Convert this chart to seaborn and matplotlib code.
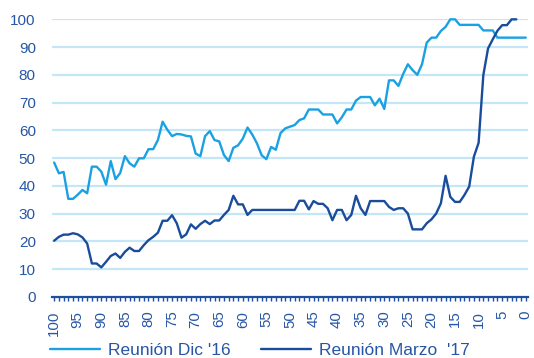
import numpy as np
import pandas as pd
import matplotlib
matplotlib.use("Agg")
import matplotlib.pyplot as plt
import seaborn as sns

x_vals = list(range(100, -1, -1))

dic16 = [48.4, 44.5, 45.0, 35.3, 35.3, 36.8, 38.5, 37.3, 46.9, 46.9,
         45.1, 40.4, 48.9, 42.4, 44.6, 50.7, 48.1, 46.9, 49.9, 49.9,
         53.2, 53.2, 56.5, 63.1, 60.2, 57.9, 58.7, 58.5, 58.0, 57.8,
         51.6, 50.7, 57.9, 59.7, 56.5, 56.0, 51.1, 48.9, 53.7, 54.6,
         57.0, 61.0, 58.5, 55.3, 51.0, 49.6, 54.0, 53.0, 59.0, 60.7,
         61.3, 61.9, 63.7, 64.3, 67.5, 67.5, 67.5, 65.7, 65.7, 65.7,
         62.5, 64.7, 67.5, 67.5, 70.7, 72.0, 72.0, 72.0, 69.0, 71.4,
         67.7, 78.0, 78.0, 76.0, 80.3, 83.8, 81.7, 80.0, 83.8, 91.6,
         93.4, 93.4, 95.8, 97.3, 100.0, 100.0, 98.0, 98.0, 98.0, 98.0,
         98.0, 96.0, 96.0, 96.0, 93.4, 93.4, 93.4, 93.4, 93.4, 93.4,
         93.4]

mar17 = [20.2, 21.6, 22.4, 22.4, 22.9, 22.5, 21.4, 19.2, 12.0, 12.0,
         10.6, 12.6, 14.7, 15.6, 14.0, 16.2, 17.7, 16.5, 16.5, 18.6,
         20.4, 21.6, 23.1, 27.4, 27.4, 29.4, 26.5, 21.3, 22.5, 26.1,
         24.5, 26.2, 27.4, 26.2, 27.5, 27.5, 29.5, 31.3, 36.4, 33.3,
         33.3, 29.5, 31.3, 31.3, 31.3, 31.3, 31.3, 31.3, 31.3, 31.3,
         31.3, 31.3, 34.6, 34.6, 31.5, 34.5, 33.5, 33.5, 31.9, 27.6,
         31.3, 31.3, 27.6, 29.5, 36.4, 31.9, 29.5, 34.5, 34.5, 34.5,
         34.5, 32.4, 31.3, 31.9, 31.9, 30.0, 24.3, 24.3, 24.3, 26.5,
         27.9, 30.0, 33.7, 43.6, 36.0, 34.2, 34.2, 36.7, 39.7, 50.5,
         55.5, 79.9, 89.5, 92.8, 95.9, 97.9, 97.9, 100.0, 100.0, np.nan,
         np.nan]

series_names = ["Reunión Dic '16", "Reunión Marzo  '17"]
colors = ["#1BA1E2", "#1A4C9C"]
text_color = "#2756A6"

df = pd.concat([
    pd.DataFrame({"x": x_vals, "y": dic16, "serie": series_names[0]}),
    pd.DataFrame({"x": x_vals, "y": mar17, "serie": series_names[1]}),
], ignore_index=True)

sns.set_theme(style="white")
plt.rcParams["font.family"] = ["Liberation Sans", "DejaVu Sans"]

fig = plt.figure(figsize=(5.34, 3.58), dpi=100)
ax = fig.add_axes([0.097, 0.171, 0.892, 0.775])

for yv in range(10, 101, 10):
    ax.axhline(yv, color="#C3E7F7", lw=1.6, zorder=0)

sns.lineplot(data=df, x="x", y="y", hue="serie", palette=dict(zip(series_names, colors)),
             lw=1.7, ax=ax, legend=True, clip_on=False, zorder=3)

ax.set_xlim(100.5, -0.5)
ax.set_ylim(0, 100)
ax.set_xticks(range(100, -1, -5))
ax.set_xticklabels([str(v) for v in range(100, -1, -5)], rotation=90)
ax.set_xticks(range(100, -1, -1), minor=True)
ax.set_yticks(range(0, 101, 10))
ax.set_xlabel("")
ax.set_ylabel("")

for s in ["top", "right", "left"]:
    ax.spines[s].set_visible(False)
ax.spines["bottom"].set_color("#1F4F9F")
ax.spines["bottom"].set_linewidth(1.6)

ax.tick_params(axis="x", which="both", bottom=True, direction="out", length=3,
               width=1.0, color="#1F4F9F", labelsize=10.8, labelcolor=text_color, pad=7)
ax.tick_params(axis="y", left=False, length=0, labelsize=11, labelcolor=text_color, pad=11.5)

handles, labels = ax.get_legend_handles_labels()
ax.legend_.remove()
fig.legend(handles, labels, loc="center", bbox_to_anchor=(0.487, 0.022), ncol=2,
           frameon=False, handlelength=2.87, columnspacing=1.78, handletextpad=0.46,
           borderpad=0, prop={"size": 12.5}, labelcolor=text_color)

fig.savefig("out.png", dpi=100)
